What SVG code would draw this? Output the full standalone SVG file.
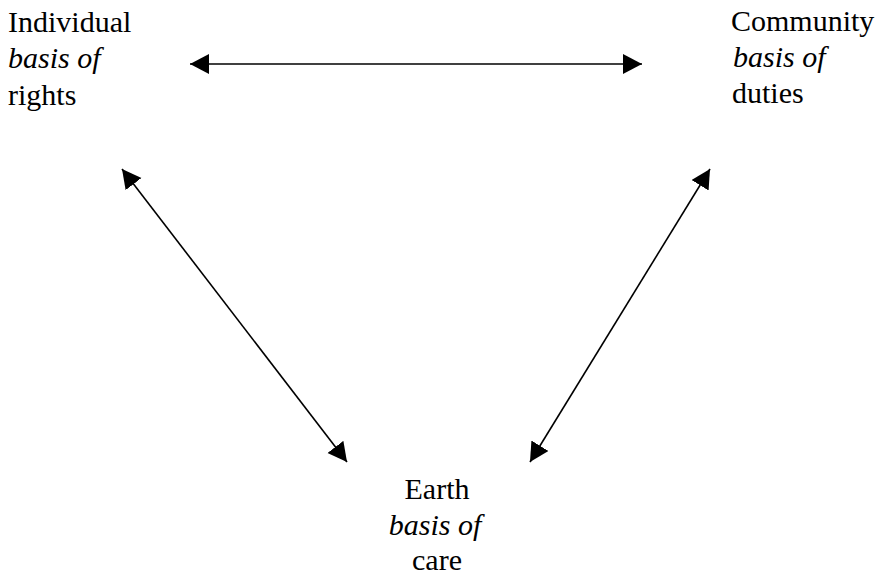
<svg xmlns="http://www.w3.org/2000/svg" width="879" height="576" viewBox="0 0 879 576">
<style>
.t{font-family:'Liberation Serif','DejaVu Serif',serif;font-size:30px;fill:#000}
.it{font-style:italic}
.c{stroke:#000;stroke-width:1.6;fill:none;marker-start:url(#ah);marker-end:url(#ah)}
</style>
<defs>
<marker id="ah" markerUnits="userSpaceOnUse" markerWidth="20" markerHeight="21" refX="19" refY="10" orient="auto-start-reverse" viewBox="0 0 20 21">
<path d="M0,0 L19,10 L0,20 Z" fill="#000"/>
</marker>
</defs>
<rect width="879" height="576" fill="#fff"/>
<g id="individual" class="t">
<text x="8" y="31.5">Individual</text>
<text x="8" y="68" class="it">basis of</text>
<text x="8" y="104.5">rights</text>
</g>
<g id="community" class="t">
<text x="731" y="31">Community</text>
<text x="733" y="67" class="it">basis of</text>
<text x="732" y="103">duties</text>
</g>
<g id="earth" class="t">
<text x="437" y="499" text-anchor="middle">Earth</text>
<text x="435" y="535" text-anchor="middle" class="it">basis of</text>
<text x="437" y="570" text-anchor="middle">care</text>
</g>
<g id="connectors">
<line class="c" x1="190" y1="64" x2="642" y2="64"/>
<line class="c" x1="122" y1="169" x2="347" y2="462"/>
<line class="c" x1="710" y1="169" x2="530" y2="462"/>
</g>
</svg>
